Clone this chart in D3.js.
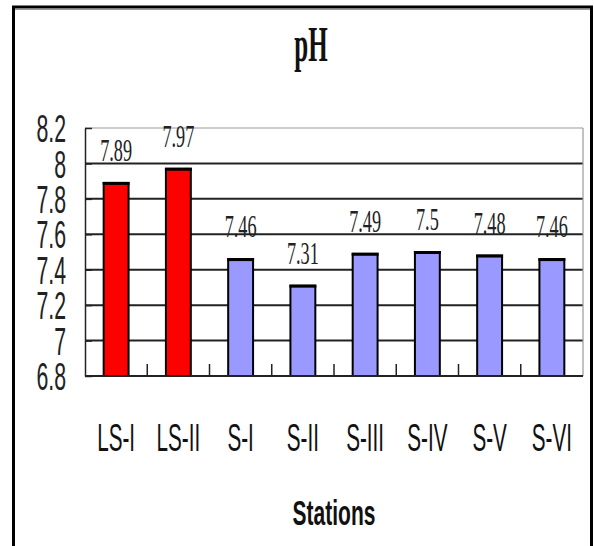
<!DOCTYPE html>
<html>
<head>
<meta charset="utf-8">
<script src="https://cdn.jsdelivr.net/npm/d3@7"></script>
<style>
  html, body { margin: 0; padding: 0; background: #fff; }
  svg { display: block; }
</style>
</head>
<body>
<div id="chart"></div>
<script>
const stations = ["LS-I", "LS-II", "S-I", "S-II", "S-III", "S-IV", "S-V", "S-VI"]
const phValues = [7.89, 7.97, 7.46, 7.31, 7.49, 7.5, 7.48, 7.46]
const barColors = ["#FF0000", "#FF0000", "#9999FF", "#9999FF", "#9999FF", "#9999FF", "#9999FF", "#9999FF"]
const valueLabels = ["7.89", "7.97", "7.46", "7.31", "7.49", "7.5", "7.48", "7.46"]
const yTicks = [6.8, 7, 7.2, 7.4, 7.6, 7.8, 8, 8.2]
const yTickLabels = ["6.8", "7", "7.2", "7.4", "7.6", "7.8", "8", "8.2"]
const chartTitle = "pH"
const xTitle = "Stations"

const width = 594
const height = 546
const plot = { left: 85, right: 583, top: 128, bottom: 376 }
const sans = "'Liberation Sans', Arial, sans-serif"
const serif = "'Liberation Serif', 'Times New Roman', serif"

const svg = d3.select("#chart")
    .append("svg")
    .attr("width", width)
    .attr("height", height)

// outer frame (no bottom edge, the picture is cut there)
svg.append("path")
    .attr("d", `M13.5,${height} L13.5,7 L591.5,7 L591.5,${height}`)
    .attr("fill", "none")
    .attr("stroke", "#000")
    .attr("stroke-width", 3)
svg.append("line")
    .attr("x1", 15).attr("x2", 590)
    .attr("y1", 9.5).attr("y2", 9.5)
    .attr("stroke", "#999")
    .attr("stroke-width", 1)

const x = d3.scaleBand()
    .domain(stations)
    .range([plot.left, plot.right])
    .padding(0)

const y = d3.scaleLinear()
    .domain([6.8, 8.2])
    .range([plot.bottom, plot.top])

const barWidth = x.bandwidth() * 0.4

// gridlines
svg.append("g")
    .selectAll("line")
    .data(yTicks.filter(t => t > 6.8))
    .join("line")
    .attr("x1", plot.left)
    .attr("x2", plot.right)
    .attr("y1", d => y(d))
    .attr("y2", d => y(d))
    .attr("stroke", d => d === 8.2 ? "#999" : "#222")
    .attr("stroke-width", d => d === 8.2 ? 1.2 : 2)

// right edge of plot area
svg.append("line")
    .attr("x1", plot.right).attr("x2", plot.right)
    .attr("y1", y(8.2)).attr("y2", y(6.8))
    .attr("stroke", "#999")
    .attr("stroke-width", 1.2)

// y axis
const yAxis = svg.append("g")
    .attr("transform", `translate(${plot.left},0)`)
    .call(d3.axisLeft(y)
        .tickValues(yTicks)
        .tickFormat((d, i) => yTickLabels[i])
        .tickSizeInner(-7)
        .tickSizeOuter(0)
        .tickPadding(19))
yAxis.select(".domain").attr("stroke", "#222").attr("stroke-width", 1.5)
yAxis.selectAll(".tick line").attr("stroke", "#222").attr("stroke-width", 1.5)
yAxis.selectAll(".tick text")
    .attr("font-family", sans)
    .attr("font-size", 38)
    .attr("fill", "#222")
    .attr("x", null)
    .attr("dy", "0.36em")
    .attr("transform", "translate(-19,0) scale(0.56,1)")

// bars
const bars = svg.append("g")
    .selectAll("g")
    .data(stations)
    .join("g")

bars.append("rect")
    .attr("x", d => x(d) + (x.bandwidth() - barWidth) / 2)
    .attr("y", (d, i) => y(phValues[i]))
    .attr("width", barWidth)
    .attr("height", (d, i) => y(6.8) - y(phValues[i]))
    .attr("fill", (d, i) => barColors[i])
    .attr("stroke", "#000")
    .attr("stroke-width", 2)

bars.append("line")
    .attr("x1", d => x(d) + (x.bandwidth() - barWidth) / 2 - 1)
    .attr("x2", d => x(d) + (x.bandwidth() + barWidth) / 2 + 1)
    .attr("y1", (d, i) => y(phValues[i]) + 0.5)
    .attr("y2", (d, i) => y(phValues[i]) + 0.5)
    .attr("stroke", "#000")
    .attr("stroke-width", 3)

// x axis line and inner ticks between categories
svg.append("line")
    .attr("x1", plot.left).attr("x2", plot.right)
    .attr("y1", plot.bottom).attr("y2", plot.bottom)
    .attr("stroke", "#222")
    .attr("stroke-width", 2)

svg.append("g")
    .selectAll("line")
    .data(stations.slice(1))
    .join("line")
    .attr("x1", d => x(d))
    .attr("x2", d => x(d))
    .attr("y1", plot.bottom - 12)
    .attr("y2", plot.bottom)
    .attr("stroke", "#222")
    .attr("stroke-width", 1.5)

// value labels
svg.append("g")
    .selectAll("text")
    .data(stations)
    .join("text")
    .attr("transform", (d, i) => `translate(${x(d) + x.bandwidth() / 2},${y(phValues[i]) - 22}) scale(0.57,1)`)
    .attr("text-anchor", "middle")
    .attr("font-family", serif)
    .attr("font-size", 32)
    .attr("fill", "#222")
    .text((d, i) => valueLabels[i])

// category labels
svg.append("g")
    .selectAll("text")
    .data(stations)
    .join("text")
    .attr("transform", d => `translate(${x(d) + x.bandwidth() / 2},451) scale(0.53,1)`)
    .attr("text-anchor", "middle")
    .attr("font-family", sans)
    .attr("font-size", 39)
    .attr("fill", "#111")
    .text(d => d)

// axis title
svg.append("text")
    .attr("transform", `translate(${(plot.left + plot.right) / 2},525) scale(0.6,1)`)
    .attr("text-anchor", "middle")
    .attr("font-family", sans)
    .attr("font-weight", "bold")
    .attr("font-size", 35)
    .attr("fill", "#111")
    .text(xTitle)

// chart title
svg.append("text")
    .attr("transform", "translate(311,61) scale(0.5,1)")
    .attr("text-anchor", "middle")
    .attr("font-family", serif)
    .attr("font-weight", "bold")
    .attr("font-size", 50)
    .attr("fill", "#111")
    .text(chartTitle)
</script>
</body>
</html>
